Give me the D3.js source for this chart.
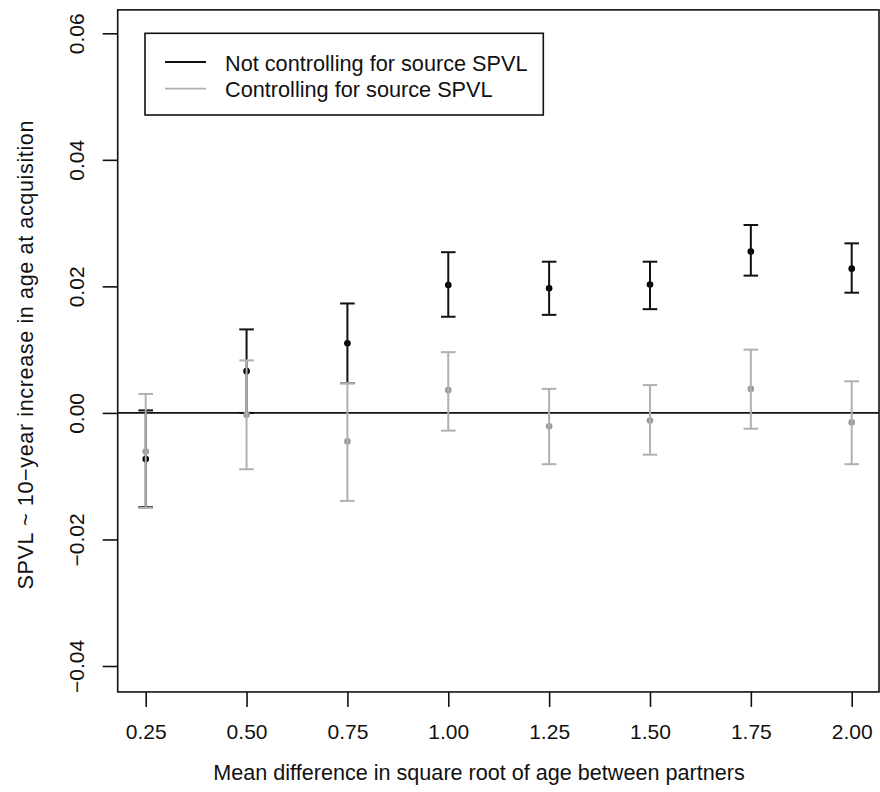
<!DOCTYPE html>
<html>
<head>
<meta charset="utf-8">
<script src="https://cdn.jsdelivr.net/npm/d3@7"></script>
<style>
  body { margin: 0; background: #fff; }
  svg { display: block; }
  text { font-family: "Liberation Sans", Arial, sans-serif; font-size: 21px; fill: #111; }
</style>
</head>
<body>
<div class="chart"></div>
<script>
// mean difference in sqrt(age) between partners
var xValues = [0.25, 0.5, 0.75, 1.0, 1.25, 1.5, 1.75, 2.0]

// not controlling for source SPVL
var notCtrlEst   = [-0.0073, 0.0066, 0.0110, 0.0202, 0.0197, 0.0203, 0.0255, 0.0228]
var notCtrlLower = [-0.0149, 0.0000, 0.0047, 0.0152, 0.0155, 0.0164, 0.0217, 0.0190]
var notCtrlUpper = [ 0.0004, 0.0132, 0.0173, 0.0254, 0.0239, 0.0239, 0.0297, 0.0268]

// controlling for source SPVL
var ctrlEst   = [-0.0061, -0.0003, -0.0045, 0.0036, -0.0021, -0.0012, 0.0038, -0.0015]
var ctrlLower = [-0.0150, -0.0089, -0.0139, -0.0028, -0.0081, -0.0066, -0.0025, -0.0081]
var ctrlUpper = [ 0.0030,  0.0083,  0.0047, 0.0096,  0.0038,  0.0044, 0.0100,  0.0050]

var xTicks = [0.25, 0.5, 0.75, 1.0, 1.25, 1.5, 1.75, 2.0]
var yTicks = [-0.04, -0.02, 0.0, 0.02, 0.04, 0.06]
var legendLabels = ['Not controlling for source SPVL', 'Controlling for source SPVL']

var xLim = [0.1806, 2.0677]
var yLim = [-0.0441, 0.0637]

var width = 880, height = 792

var xScale = d3.scaleLinear()
               .domain([0.25, 2.0])
               .range([145.7, 851.7])

var yScale = d3.scaleLinear()
               .domain([-0.04, 0.06])
               .range([666, 33.3])

var svg = d3.select('.chart')
            .append('svg')
            .attr('width', width)
            .attr('height', height)

var box = {
   left: xScale(xLim[0]),
   right: xScale(xLim[1]),
   top: yScale(yLim[1]),
   bottom: yScale(yLim[0])
}

// zero line
svg.append('line')
   .attr('x1', box.left).attr('x2', box.right)
   .attr('y1', yScale(0)).attr('y2', yScale(0))
   .style('stroke', '#111')
   .style('stroke-width', 1.6)

function series(est, lower, upper, lineColor, pointColor) {
   var rows = xValues.map(function(x, i){
      return {x: x, est: est[i], lo: lower[i], hi: upper[i]}
   })
   var g = svg.append('g')

   g.selectAll('circle')
    .data(rows)
    .enter()
    .append('circle')
    .attr('cx', function(d){ return xScale(d.x) })
    .attr('cy', function(d){ return yScale(d.est) })
    .attr('r', 3.3)
    .style('fill', pointColor)

   var bars = g.selectAll('.bar')
    .data(rows)
    .enter()
    .append('g')
    .attr('class', 'bar')
    .style('stroke', lineColor)
    .style('stroke-width', 2)

   bars.append('line')
       .attr('x1', function(d){ return xScale(d.x) })
       .attr('x2', function(d){ return xScale(d.x) })
       .attr('y1', function(d){ return yScale(d.lo) })
       .attr('y2', function(d){ return yScale(d.hi) })

   bars.append('line')
       .attr('x1', function(d){ return xScale(d.x) - 7.3 })
       .attr('x2', function(d){ return xScale(d.x) + 7.3 })
       .attr('y1', function(d){ return yScale(d.hi) })
       .attr('y2', function(d){ return yScale(d.hi) })

   bars.append('line')
       .attr('x1', function(d){ return xScale(d.x) - 7.3 })
       .attr('x2', function(d){ return xScale(d.x) + 7.3 })
       .attr('y1', function(d){ return yScale(d.lo) })
       .attr('y2', function(d){ return yScale(d.lo) })
}

series(notCtrlEst, notCtrlLower, notCtrlUpper, '#111', '#000')
series(ctrlEst, ctrlLower, ctrlUpper, '#b0b0b0', '#9a9a9a')

// plot box
svg.append('rect')
   .attr('x', box.left)
   .attr('y', box.top)
   .attr('width', Math.min(box.right, 879.2) - box.left)
   .attr('height', box.bottom - box.top)
   .style('fill', 'none')
   .style('stroke', '#111')
   .style('stroke-width', 1.6)

// axes
var xAxis = d3.axisBottom(xScale)
              .tickValues(xTicks)
              .tickFormat(d3.format('.2f'))
              .tickSize(15)
              .tickSizeOuter(0)

var gx = svg.append('g')
   .attr('transform', 'translate(0,' + box.bottom + ')')
   .call(xAxis)
gx.select('.domain').remove()
gx.selectAll('line').style('stroke', '#111').style('stroke-width', 1.6)
gx.selectAll('text')
  .attr('y', 47).attr('dy', null)
  .style('font-size', '21px').style('font-family', '"Liberation Sans", Arial, sans-serif')
  .style('fill', '#111')

var yAxis = d3.axisLeft(yScale)
              .tickValues(yTicks)
              .tickFormat(d3.format('.2f'))
              .tickSize(15)
              .tickSizeOuter(0)

var gy = svg.append('g')
   .attr('transform', 'translate(' + box.left + ',0)')
   .call(yAxis)
gy.select('.domain').remove()
gy.selectAll('line').style('stroke', '#111').style('stroke-width', 1.6)
gy.selectAll('text')
  .attr('x', null).attr('dy', null)
  .attr('text-anchor', 'middle')
  .attr('transform', 'translate(-34,0) rotate(-90)')
  .style('font-size', '21px').style('font-family', '"Liberation Sans", Arial, sans-serif')
  .style('fill', '#111')

// axis titles
svg.append('text')
   .attr('x', 479)
   .attr('y', 780)
   .attr('text-anchor', 'middle')
   .style('font-size', '21.6px')
   .text('Mean difference in square root of age between partners')

svg.append('text')
   .attr('transform', 'translate(33,355) rotate(-90)')
   .attr('text-anchor', 'middle')
   .attr('textLength', 469)
   .attr('lengthAdjust', 'spacing')
   .style('font-size', '21.6px')
   .text('SPVL ~ 10\u2212year increase in age at acquisition')

// legend
var legend = svg.append('g')
legend.append('rect')
      .attr('x', 145).attr('y', 33.3)
      .attr('width', 398.3).attr('height', 81.7)
      .style('fill', '#fff')
      .style('stroke', '#111')
      .style('stroke-width', 1.6)

var legendColors = ['#111', '#b0b0b0']
legendLabels.forEach(function(label, i){
   var rowY = 62 + i * 26.6
   legend.append('line')
         .attr('x1', 165).attr('x2', 206)
         .attr('y1', rowY).attr('y2', rowY)
         .style('stroke', legendColors[i])
         .style('stroke-width', 1.8)
   legend.append('text')
         .attr('x', 225)
         .attr('y', rowY + 8.5)
         .style('font-size', '21.7px')
         .text(label)
})
</script>
</body>
</html>
